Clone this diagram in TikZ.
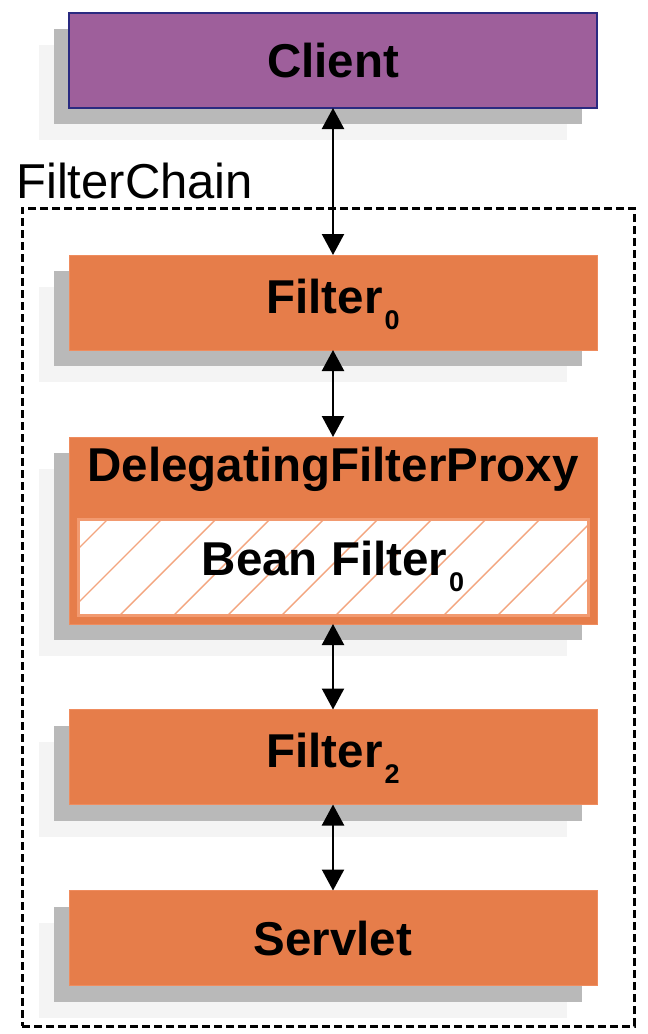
\documentclass[tikz,border=0pt]{standalone}
\usepackage{fontspec}
\setmainfont{Liberation Sans}
\usetikzlibrary{arrows.meta,shadows}
\definecolor{clientfill}{HTML}{9E5F9B}
\definecolor{clientdraw}{HTML}{2A2A80}
\definecolor{orangefill}{HTML}{E67D4A}
\definecolor{orangedraw}{HTML}{EF8C5E}
\definecolor{innerdraw}{HTML}{F29A70}
\definecolor{hatchcol}{HTML}{F3A57F}
\definecolor{shdark}{HTML}{B9B9B9}
\definecolor{shlight}{HTML}{F4F4F4}
\newcommand{\mysub}[1]{\kern2pt\raisebox{-16pt}{\fontsize{27}{30}\selectfont #1}}
\begin{document}
\begin{tikzpicture}[x=1pt,y=-1pt,
  shadowed/.style={general shadow={fill=shlight, shadow xshift=-30pt, shadow yshift=-32pt},
                   general shadow={fill=shdark, shadow xshift=-15pt, shadow yshift=-16pt}},
  stagebox/.style={shadowed, rectangle, inner sep=0pt, outer sep=0pt,
                   minimum width=528pt, minimum height=95pt, line width=1pt},
  orangebox/.style={stagebox, fill=orangefill, draw=orangedraw},
  lbl/.style={font=\bfseries\fontsize{47.5}{57}\selectfont, inner sep=0pt, anchor=base},
  conn/.style={line width=2.3pt, {Triangle[width=22pt,length=21pt]}-{Triangle[width=22pt,length=21pt]}},
  hatchline/.style={draw=hatchcol, line width=1.4pt}]
\useasboundingbox (0,0) rectangle (648,1034);
% FilterChain container
\node[draw, line width=3pt, dash pattern=on 8pt off 4pt, minimum width=612pt,
      minimum height=818pt, inner sep=0pt, outer sep=0pt] (chain) at (328,617) {};
\node[font=\fontsize{49}{58}\selectfont, inner sep=0pt, anchor=base west] (chainlbl) at (16,198) {FilterChain};
% boxes
\node[stagebox, fill=clientfill, draw=clientdraw, line width=1.3pt] (client) at (333,60.5) {};
\node[orangebox] (f0) at (333,302.5) {};
\node[orangebox, minimum height=187pt] (dfp) at (333,530.5) {};
\node[rectangle, fill=white, draw=innerdraw, line width=3pt, inner sep=0pt, outer sep=0pt,
      minimum width=510pt, minimum height=96pt,
      path picture={\foreach \i in {-120,-66,...,560}
        \draw[hatchline] ([xshift=\i pt]path picture bounding box.south west) -- ++(130pt,130pt);}]
      (bean) at (333,567) {};
\node[orangebox] (f2) at (333,757) {};
\node[orangebox] (servlet) at (333,938) {};
% connectors
\draw[conn] (client.south) -- (f0.north);
\draw[conn] (f0.south) -- (dfp.north);
\draw[conn] (dfp.south) -- (f2.north);
\draw[conn] (f2.south) -- (servlet.north);
% texts
\node[lbl] (clienttxt) at (333,77) {Client};
\node[lbl] (f0txt) at (333,313) {Filter\mysub{0}};
\node[lbl] (dfptxt) at (333,481) {DelegatingFilterProxy};
\node[lbl] (beantxt) at (333,575) {Bean Filter\mysub{0}};
\node[lbl] (f2txt) at (333,767) {Filter\mysub{2}};
\node[lbl] (servlettxt) at (333,955) {Servlet};
\end{tikzpicture}
\end{document}
